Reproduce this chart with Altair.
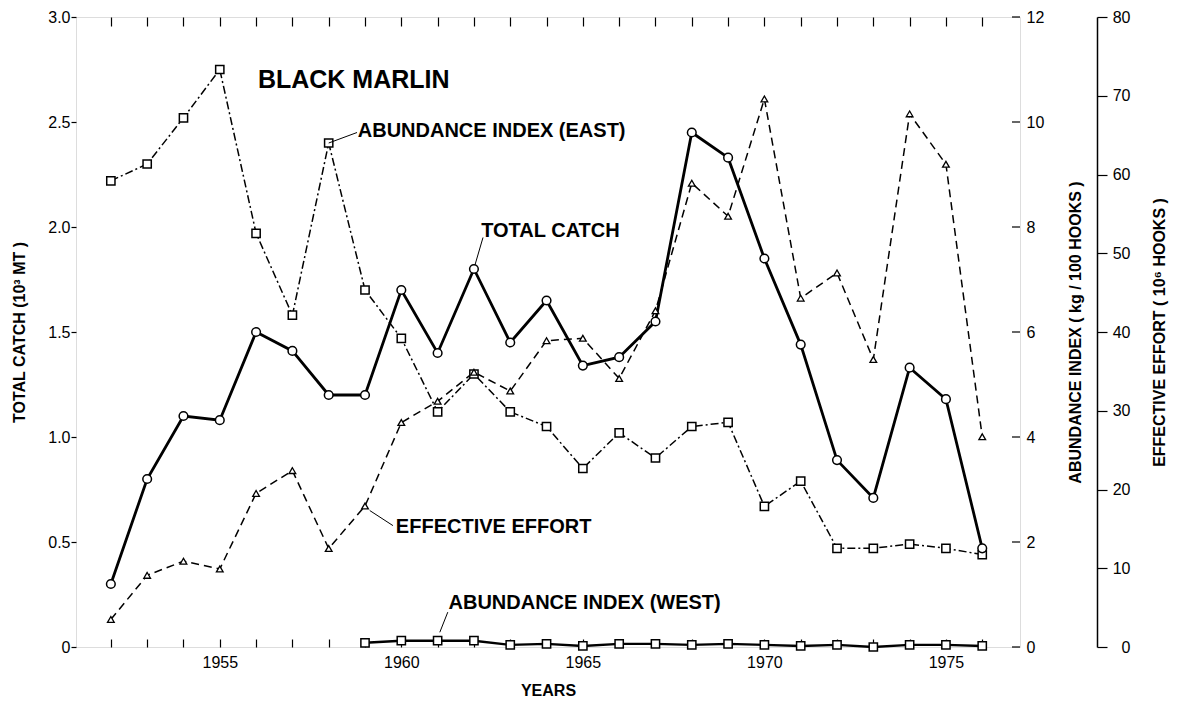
import altair as alt
import pandas as pd

years = list(range(1952, 1977))
total_catch = [0.30, 0.80, 1.10, 1.08, 1.50, 1.41, 1.20, 1.20, 1.70, 1.40, 1.80, 1.45, 1.65,
               1.34, 1.38, 1.55, 2.45, 2.33, 1.85, 1.44, 0.89, 0.71, 1.33, 1.18, 0.47]
abund_east = [8.88, 9.20, 10.08, 11.00, 7.88, 6.32, 9.60, 6.80, 5.88, 4.48, 5.20, 4.48, 4.20,
              3.40, 4.08, 3.60, 4.20, 4.28, 2.68, 3.16, 1.88, 1.88, 1.96, 1.88, 1.76]
effort = [3.5, 9.1, 10.9, 9.9, 19.5, 22.4, 12.5, 17.9, 28.5, 31.2, 34.9, 32.5, 38.9,
          39.2, 34.1, 42.7, 58.9, 54.7, 69.6, 44.3, 47.5, 36.5, 67.7, 61.3, 26.7]
west_years = list(range(1959, 1977))
abund_west = [0.08, 0.12, 0.12, 0.12, 0.04, 0.06, 0.02, 0.06, 0.06, 0.04, 0.06, 0.04,
              0.02, 0.04, 0.00, 0.04, 0.04, 0.02]

catch_ticks = [0, 0.5, 1.0, 1.5, 2.0, 2.5, 3.0]
abund_ticks = [0, 2, 4, 6, 8, 10, 12]
effort_ticks = [0, 10, 20, 30, 40, 50, 60, 70, 80]
year_labels = [1955, 1960, 1965, 1970, 1975]

# annotation labels (placed in year / total-catch units)
label_texts = ["ABUNDANCE INDEX (EAST)", "TOTAL CATCH", "EFFECTIVE EFFORT", "ABUNDANCE INDEX (WEST)"]
label_x = [1958.80, 1962.20, 1959.85, 1961.30]
label_y = [2.455, 1.98, 0.57, 0.21]
leader_x1 = [1958.0, 1962.03, 1959.13, 1961.06]
leader_y1 = [2.40, 1.82, 0.65, 0.07]
leader_x2 = [1958.78, 1962.25, 1959.77, 1961.28]
leader_y2 = [2.45, 1.95, 0.578, 0.166]
title_text = ["BLACK MARLIN"]
title_x = [1956.05]
title_y = [2.70]

FONT = "Liberation Sans"
XDOM = [1951.04, 1977.04]
PW, PH = 944, 630

df_catch = pd.DataFrame({"year": years, "v": total_catch})
df_east = pd.DataFrame({"year": years, "v": abund_east})
df_effort = pd.DataFrame({"year": years, "v": effort})
df_west = pd.DataFrame({"year": west_years, "v": abund_west})
df_lab = pd.DataFrame({"text": label_texts, "x": label_x, "y": label_y})
df_lead = pd.DataFrame({"x": leader_x1, "y": leader_y1, "x2": leader_x2, "y2": leader_y2})
df_title = pd.DataFrame({"text": title_text, "x": title_x, "y": title_y})
df_atick = pd.DataFrame({"v": abund_ticks})

xscale = alt.Scale(domain=XDOM, nice=False, zero=False)
catch_scale = alt.Scale(domain=[0, 3], nice=False)
abund_scale = alt.Scale(domain=[0, 12], nice=False)
effort_scale = alt.Scale(domain=[0, 80], nice=False)


def xenc(field="year", axis=None):
    return alt.X(f"{field}:Q", scale=xscale, axis=axis, title=None)


common_axis = dict(grid=False, labelFont=FONT, labelFontSize=16, labelColor="black",
                   titleFont=FONT, titleFontSize=16, titleFontWeight="bold", titleColor="black")

# --- total catch (left axis, bottom x labels) ---
catch_line = alt.Chart(df_catch).mark_line(color="black", strokeWidth=2.8).encode(
    x=alt.X("year:Q", scale=xscale, title="YEARS",
            axis=alt.Axis(values=year_labels, format="d", tickSize=0, domain=False,
                          labelPadding=7, titlePadding=12, **common_axis)),
    y=alt.Y("v:Q", scale=catch_scale, title="TOTAL CATCH (10³ MT )",
            axis=alt.Axis(values=catch_ticks, orient="left", domain=False,
                          labelExpr="datum.value == 0 ? '0' : format(datum.value, '.1f')",
                          tickSize=5, tickColor="black", tickWidth=1.2,
                          labelPadding=1, titlePadding=20, **common_axis)),
)
catch_pts = alt.Chart(df_catch).mark_point(shape="circle", size=75, filled=True, fill="white",
                                           stroke="black", strokeWidth=1.5, opacity=1).encode(
    x=xenc(), y=alt.Y("v:Q", scale=catch_scale, axis=None))

# --- abundance east (right axis labels) ---
east_line = alt.Chart(df_east).mark_line(color="black", strokeWidth=1.5, strokeDash=[8, 3, 2, 3]).encode(
    x=xenc(),
    y=alt.Y("v:Q", scale=abund_scale, title="ABUNDANCE INDEX ( kg / 100 HOOKS )",
            axis=alt.Axis(values=abund_ticks, orient="right", domain=False, tickSize=0,
                          labelPadding=6, titleAngle=270, titlePadding=40, **common_axis)),
)
east_pts = alt.Chart(df_east).mark_point(shape="square", size=68, filled=True, fill="white",
                                         stroke="black", strokeWidth=1.5, opacity=1).encode(
    x=xenc(), y=alt.Y("v:Q", scale=abund_scale, axis=None))

# inward ticks on the right border (abundance scale)
abund_inticks = alt.Chart(df_atick).mark_rule(color="black", strokeWidth=1.2).encode(
    x=alt.value(PW - 8), x2=alt.value(PW),
    y=alt.Y("v:Q", scale=abund_scale, axis=None))

# --- abundance west ---
west_line = alt.Chart(df_west).mark_line(color="black", strokeWidth=2.4).encode(
    x=xenc(), y=alt.Y("v:Q", scale=abund_scale, axis=None))
west_pts = alt.Chart(df_west).mark_point(shape="square", size=68, filled=True, fill="white",
                                         stroke="black", strokeWidth=1.5, opacity=1).encode(
    x=xenc(), y=alt.Y("v:Q", scale=abund_scale, axis=None))

# --- effective effort (far right axis) ---
effort_line = alt.Chart(df_effort).mark_line(color="black", strokeWidth=1.5, strokeDash=[8, 5]).encode(
    x=xenc(),
    y=alt.Y("v:Q", scale=effort_scale, title="EFFECTIVE EFFORT ( 10⁶ HOOKS )",
            axis=alt.Axis(values=effort_ticks, orient="right", offset=77, domain=True,
                          domainColor="black", domainWidth=1.5,
                          tickSize=10, tickColor="black", tickWidth=1.2,
                          labelAlign="right", labelPadding=23,
                          titleAngle=270, titlePadding=37, **common_axis)),
)
effort_pts = alt.Chart(df_effort).mark_point(shape="triangle-up", size=45, filled=True, fill="white",
                                             stroke="black", strokeWidth=1.3, opacity=1).encode(
    x=xenc(), y=alt.Y("v:Q", scale=effort_scale, axis=None))

# --- annotations ---
labels = alt.Chart(df_lab).mark_text(align="left", baseline="middle", font=FONT, fontSize=20,
                                     fontWeight="bold", color="black").encode(
    # top border ticks pointing down
    x=alt.X("x:Q", scale=xscale, title=None,
            axis=alt.Axis(values=years, orient="bottom", offset=-PH, labels=False, domain=False,
                          grid=False, tickSize=9, tickColor="black", tickWidth=1.2)),
    y=alt.Y("y:Q", scale=catch_scale, axis=None),
    text="text:N")
leaders = alt.Chart(df_lead).mark_rule(color="black", strokeWidth=1).encode(
    # bottom border ticks pointing up
    x=alt.X("x:Q", scale=xscale, title=None,
            axis=alt.Axis(values=years, orient="top", offset=-PH, labels=False, domain=False,
                          grid=False, tickSize=8, tickColor="black", tickWidth=1.2)),
    x2="x2:Q",
    y=alt.Y("y:Q", scale=catch_scale, axis=None),
    y2="y2:Q")
title = alt.Chart(df_title).mark_text(align="left", baseline="middle", font=FONT, fontSize=25,
                                      fontWeight="bold", color="black").encode(
    x=xenc("x"), y=alt.Y("y:Q", scale=catch_scale, axis=None), text="text:N")

chart = alt.layer(
    catch_line, east_line, effort_line, west_line,
    east_pts, west_pts, effort_pts, catch_pts, abund_inticks,
    labels, leaders, title,
).resolve_scale(y="independent").resolve_axis(x="independent", y="independent").properties(
    width=PW, height=PH,
    autosize=alt.AutoSizeParams(type="none"),
    padding={"left": 68, "top": 9, "right": 153, "bottom": 58},
).configure_view(stroke="black", strokeWidth=1.5).configure(background="white")

chart.save("out.html", embed_options={"renderer": "svg", "actions": False})
